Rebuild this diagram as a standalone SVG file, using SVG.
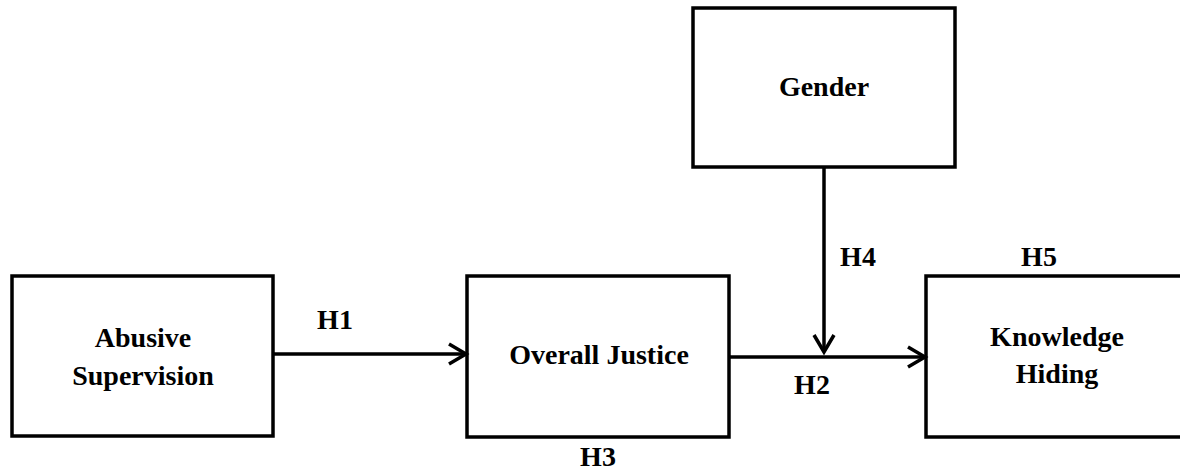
<svg xmlns="http://www.w3.org/2000/svg" width="1180" height="471" viewBox="0 0 1180 471">
<style>
.box{fill:#fff;stroke:#000;stroke-width:3.5}
.t{font-family:"Liberation Serif","Times New Roman",serif;font-weight:bold;font-size:28px;fill:#000;text-anchor:middle}
.c{fill:none;stroke:#000;stroke-width:3.5}
</style>
<defs>
<marker id="arr" markerUnits="userSpaceOnUse" markerWidth="24" markerHeight="26" refX="20" refY="12" orient="auto" viewBox="0 0 24 24">
<polyline points="3,2 20,12 3,22" fill="none" stroke="#000" stroke-width="3.5"/>
</marker>
</defs>
<rect width="1180" height="471" fill="#fff"/>
<g id="abusive">
<rect class="box" x="12" y="276" width="261" height="160"/>
<text class="t" x="143" y="347">Abusive</text>
<text class="t" x="143" y="385">Supervision</text>
</g>
<g id="justice">
<rect class="box" x="467" y="276" width="262" height="161"/>
<text class="t" x="599" y="364">Overall Justice</text>
</g>
<g id="gender">
<rect class="box" x="693" y="8" width="262" height="159"/>
<text class="t" x="824" y="96">Gender</text>
</g>
<g id="knowledge">
<rect class="box" x="926" y="276" width="262" height="161"/>
<text class="t" x="1057" y="346">Knowledge</text>
<text class="t" x="1057" y="383">Hiding</text>
</g>
<g id="connectors">
<line class="c" x1="273" y1="354" x2="466" y2="354" marker-end="url(#arr)"/>
<line class="c" x1="729" y1="357" x2="925" y2="357" marker-end="url(#arr)"/>
<line class="c" x1="824" y1="167" x2="824" y2="352" marker-end="url(#arr)"/>
</g>
<g id="labels">
<text class="t" x="335" y="329">H1</text>
<text class="t" x="812" y="394">H2</text>
<text class="t" x="598" y="466">H3</text>
<text class="t" x="858" y="266">H4</text>
<text class="t" x="1039" y="266">H5</text>
</g>
</svg>
